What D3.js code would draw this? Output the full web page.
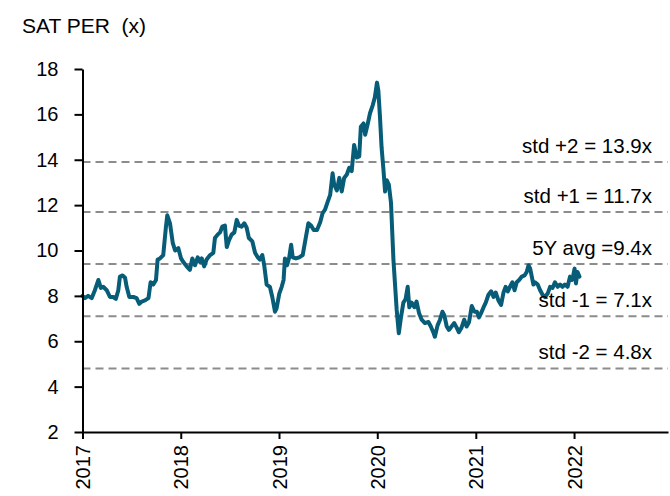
<!DOCTYPE html>
<html>
<head>
<meta charset="utf-8">
<script src="https://cdn.jsdelivr.net/npm/d3@7"></script>
<style>
  body { margin: 0; background: #fff; }
  svg { font-family: "Liberation Sans", Arial, sans-serif; }
</style>
</head>
<body>
<div id="chart"></div>
<script>
// SAT PER, weekly-ish points
const dates = [
  "2017-01-01","2017-01-10","2017-01-22","2017-02-04","2017-02-16","2017-03-01","2017-03-10","2017-03-19",
  "2017-04-01","2017-04-13","2017-04-25","2017-05-05","2017-05-14","2017-05-20","2017-05-30","2017-06-08",
  "2017-06-14","2017-06-24","2017-07-09","2017-07-21","2017-07-31","2017-08-09","2017-08-21","2017-09-03",
  "2017-09-11","2017-09-21","2017-10-01","2017-10-07","2017-10-16","2017-10-28","2017-11-07","2017-11-12",
  "2017-11-22","2017-12-02","2017-12-11","2017-12-23",
  "2018-01-02","2018-01-10","2018-01-23","2018-02-04","2018-02-13","2018-02-23","2018-03-05","2018-03-13",
  "2018-03-20","2018-03-29","2018-04-07","2018-04-20","2018-05-02","2018-05-08","2018-05-18","2018-05-27",
  "2018-06-04","2018-06-14","2018-06-21","2018-06-29","2018-07-09","2018-07-19","2018-07-28","2018-08-05",
  "2018-08-15","2018-08-25","2018-09-03","2018-09-11","2018-09-24","2018-10-04","2018-10-14","2018-10-22",
  "2018-10-31","2018-11-07","2018-11-16","2018-11-28","2018-12-07","2018-12-17","2018-12-23",
  "2019-01-02","2019-01-11","2019-01-18","2019-01-23","2019-01-31","2019-02-08","2019-02-15","2019-02-21",
  "2019-03-05","2019-03-17","2019-03-30","2019-04-11","2019-04-20","2019-04-30","2019-05-10","2019-05-22",
  "2019-06-03","2019-06-12","2019-06-21","2019-07-01","2019-07-10","2019-07-19","2019-07-25","2019-08-04",
  "2019-08-13","2019-08-22","2019-08-31","2019-09-10","2019-09-19","2019-09-28","2019-10-07","2019-10-17",
  "2019-10-26","2019-11-01","2019-11-11","2019-11-17","2019-11-26","2019-12-05","2019-12-15","2019-12-23",
  "2019-12-31","2020-01-05","2020-01-11","2020-01-17","2020-01-24","2020-01-30","2020-02-05","2020-02-13",
  "2020-02-21","2020-03-01","2020-03-13","2020-03-21","2020-03-29","2020-04-07","2020-04-15","2020-04-23",
  "2020-04-29","2020-05-08","2020-05-18","2020-05-26","2020-06-04","2020-06-14","2020-06-26","2020-07-09",
  "2020-07-18","2020-07-27","2020-08-02","2020-08-12","2020-08-21","2020-08-30","2020-09-06","2020-09-15",
  "2020-09-23","2020-10-03","2020-10-13","2020-10-22","2020-10-30","2020-11-09","2020-11-19","2020-11-28",
  "2020-12-07","2020-12-17","2020-12-27",
  "2021-01-05","2021-01-13","2021-01-21","2021-01-30","2021-02-07","2021-02-17","2021-02-27","2021-03-08",
  "2021-03-16","2021-03-26","2021-04-05","2021-04-14","2021-04-22","2021-04-30","2021-05-08","2021-05-17",
  "2021-05-25","2021-06-02","2021-06-11","2021-06-21","2021-07-01","2021-07-09","2021-07-16","2021-07-22",
  "2021-07-28","2021-08-03","2021-08-09","2021-08-19","2021-08-28","2021-09-06","2021-09-15","2021-09-25",
  "2021-10-04","2021-10-13","2021-10-22","2021-11-01","2021-11-10","2021-11-19","2021-11-28","2021-12-08",
  "2021-12-17","2021-12-24","2021-12-29","2022-01-03","2022-01-08","2022-01-14","2022-01-21"
];
const per = [
  8.0,7.9,8.0,7.9,8.25,8.7,8.35,8.4,
  8.25,7.95,7.95,7.87,8.25,8.85,8.9,8.8,
  8.4,7.95,7.95,7.9,7.65,7.75,7.8,7.9,
  8.6,8.5,8.7,9.6,9.65,9.8,11.05,11.55,
  11.2,10.35,10.0,10.1,
  9.65,9.5,9.3,9.15,9.65,9.35,9.7,9.5,
  9.65,9.3,9.6,9.8,9.9,10.55,10.7,10.8,
  11.05,11.1,10.15,10.45,10.7,10.8,11.35,11.1,
  11.05,11.2,11.0,10.55,10.4,9.9,9.7,9.6,
  9.8,9.35,8.5,8.4,7.95,7.3,7.45,
  8.1,8.4,8.7,9.65,9.35,9.7,10.25,9.7,
  9.65,9.7,9.8,10.6,11.2,11.1,10.9,10.9,
  11.25,11.65,11.8,12.15,12.45,13.4,12.9,12.65,
  13.2,12.6,13.2,13.35,13.65,13.5,14.65,14.1,
  14.15,15.45,15.6,15.1,15.55,16.05,16.4,16.75,
  17.4,17.05,15.9,14.55,13.55,12.6,13.1,12.9,
  12.1,9.6,7.4,6.35,7.05,7.7,7.85,8.4,
  7.5,7.7,7.5,7.75,7.25,6.95,6.8,6.85,
  6.65,6.4,6.2,6.7,6.95,7.3,7.15,6.65,
  6.5,6.65,6.8,6.6,6.4,6.6,6.95,6.65,
  6.85,7.55,7.3,
  7.3,7.05,7.25,7.5,7.7,8.05,8.2,7.95,
  8.15,7.8,7.6,8.15,8.4,8.2,8.4,8.6,
  8.25,8.6,8.7,8.85,8.9,9.05,9.35,9.2,
  8.85,8.5,8.6,8.5,8.25,8.05,7.95,8.1,
  8.4,8.35,8.6,8.4,8.5,8.4,8.5,8.4,
  8.85,8.7,8.9,9.2,8.55,9.05,8.85
];

const bandValues = [13.9, 11.7, 9.4, 7.1, 4.8];
const bandLabels = ["std +2 = 13.9x", "std +1 = 11.7x", "5Y avg =9.4x", "std -1 = 7.1x", "std -2 = 4.8x"];
const yTicks = [2, 4, 6, 8, 10, 12, 14, 16, 18];
const yearTicks = ["2017", "2018", "2019", "2020", "2021", "2022"];

const width = 670;
const height = 496;
const margin = { top: 69, right: 2, bottom: 64, left: 82.5 };

const parse = d3.timeParse("%Y-%m-%d");
const data = dates.map((d, i) => ({ date: parse(d), value: per[i] }));

const svg = d3.select("#chart")
    .append("svg")
    .attr("width", width)
    .attr("height", height);

const x = d3.scaleTime()
    .domain([parse("2017-01-01"), parse("2022-12-16")])
    .range([margin.left, width - margin.right]);

const y = d3.scaleLinear()
    .domain([2, 18])
    .range([height - margin.bottom, margin.top]);

// title
svg.append("text")
    .attr("x", 22)
    .attr("y", 33)
    .attr("font-size", 21)
    .attr("fill", "#000")
    .style("white-space", "pre")
    .text("SAT PER  (x)");

// dashed std lines
svg.selectAll(".band")
    .data(bandValues)
    .join("line")
    .attr("class", "band")
    .attr("x1", margin.left)
    .attr("x2", width - margin.right)
    .attr("y1", d => y(d))
    .attr("y2", d => y(d))
    .attr("stroke", "#8c8c8c")
    .attr("stroke-width", 2)
    .attr("stroke-dasharray", "8,5");

// the PER line
const line = d3.line()
    .x(d => x(d.date))
    .y(d => y(d.value));

svg.append("path")
    .datum(data)
    .attr("d", line)
    .attr("fill", "none")
    .attr("stroke", "#075c78")
    .attr("stroke-width", 4)
    .attr("stroke-linejoin", "round")
    .attr("stroke-linecap", "round");

// band labels
svg.selectAll(".band-label")
    .data(bandValues)
    .join("text")
    .attr("class", "band-label")
    .attr("x", 652)
    .attr("y", d => y(d) - 9)
    .attr("text-anchor", "end")
    .attr("font-size", 20.5)
    .attr("fill", "#000")
    .text((d, i) => bandLabels[i]);

// y axis
const yAxis = svg.append("g")
    .attr("transform", `translate(${margin.left},0)`)
    .call(d3.axisLeft(y).tickValues(yTicks).tickSize(8).tickSizeOuter(0).tickPadding(16));
yAxis.select(".domain").attr("stroke", "#000").attr("stroke-width", 2);
yAxis.selectAll(".tick line").attr("stroke", "#000").attr("stroke-width", 2);
yAxis.selectAll(".tick text")
    .attr("font-size", 20)
    .attr("font-family", "Liberation Sans, Arial, sans-serif")
    .attr("fill", "#000");

// x axis
const xAxis = svg.append("g")
    .attr("transform", `translate(0,${height - margin.bottom})`)
    .call(d3.axisBottom(x)
        .tickValues(yearTicks.map(t => parse(t + "-01-01")))
        .tickFormat(d3.timeFormat("%Y"))
        .tickSize(7)
        .tickSizeOuter(0));
xAxis.select(".domain").attr("stroke", "#000").attr("stroke-width", 2);
xAxis.selectAll(".tick line").attr("stroke", "#000").attr("stroke-width", 2);
xAxis.selectAll(".tick text")
    .attr("font-size", 20)
    .attr("font-family", "Liberation Sans, Arial, sans-serif")
    .attr("fill", "#000")
    .attr("transform", "rotate(-90)")
    .attr("text-anchor", "end")
    .attr("x", -13)
    .attr("y", 0)
    .attr("dy", "0.35em");
</script>
</body>
</html>
